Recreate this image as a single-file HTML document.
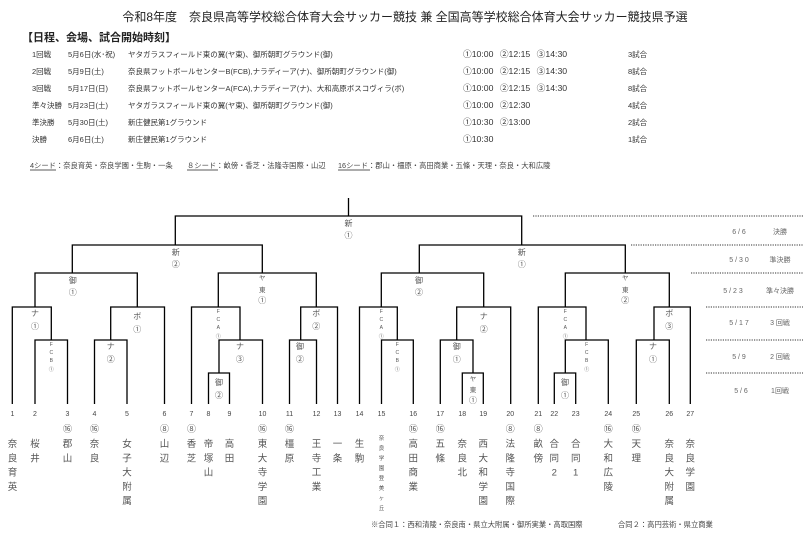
<!DOCTYPE html>
<html><head><meta charset="utf-8">
<style>
html,body{margin:0;padding:0;background:#fff;}
svg{display:block;}
text{font-family:"Liberation Sans","Noto Sans CJK JP",sans-serif;}
</style></head>
<body>
<svg width="812" height="536" viewBox="0 0 812 536" xmlns="http://www.w3.org/2000/svg">
<g fill="#222">
<text x="405" y="21" font-size="12" text-anchor="middle">令和8年度　奈良県高等学校総合体育大会サッカー競技 兼 全国高等学校総合体育大会サッカー競技県予選</text>
<text x="22" y="41" font-size="11" font-weight="bold">【日程、会場、試合開始時刻】</text>
</g>
<g fill="#333" font-size="7.5">
<text x="32" y="57">1回戦</text><text x="68" y="57">5月6日(水･祝)</text><text x="128" y="57">ヤタガラスフィールド東の翼(ヤ東)、御所朝町グラウンド(御)</text>
<text x="32" y="74">2回戦</text><text x="68" y="74">5月9日(土)</text><text x="128" y="74">奈良県フットボールセンターB(FCB),ナラディーア(ナ)、御所朝町グラウンド(御)</text>
<text x="32" y="91">3回戦</text><text x="68" y="91">5月17日(日)</text><text x="128" y="91">奈良県フットボールセンターA(FCA),ナラディーア(ナ)、大和高原ボスコヴィラ(ボ)</text>
<text x="32" y="108">準々決勝</text><text x="68" y="108">5月23日(土)</text><text x="128" y="108">ヤタガラスフィールド東の翼(ヤ東)、御所朝町グラウンド(御)</text>
<text x="32" y="125">準決勝</text><text x="68" y="125">5月30日(土)</text><text x="128" y="125">新庄健民第1グラウンド</text>
<text x="32" y="142">決勝</text><text x="68" y="142">6月6日(土)</text><text x="128" y="142">新庄健民第1グラウンド</text>
<text x="628" y="57">3試合</text><text x="628" y="74">8試合</text><text x="628" y="91">8試合</text><text x="628" y="108">4試合</text><text x="628" y="125">2試合</text><text x="628" y="142">1試合</text>
</g>
<g fill="#333" font-size="8.7" word-spacing="4">
<text x="463" y="57">①10:00 ②12:15 ③14:30</text>
<text x="463" y="74">①10:00 ②12:15 ③14:30</text>
<text x="463" y="91">①10:00 ②12:15 ③14:30</text>
<text x="463" y="108">①10:00 ②12:30</text>
<text x="463" y="125">①10:30 ②13:00</text>
<text x="463" y="142">①10:30</text>
</g>
<g fill="#444" font-size="7.3">
<text x="30" y="168">4シード：奈良育英・奈良学園・生駒・一条</text>
<text x="187" y="168">８シード：畝傍・香芝・法隆寺国際・山辺</text>
<text x="338" y="168">16シード：郡山・橿原・高田商業・五條・天理・奈良・大和広陵</text>
</g>
<g stroke="#222" stroke-width="0.8">
<line x1="30" y1="170" x2="56" y2="170"/><line x1="187" y1="170" x2="218" y2="170"/><line x1="338" y1="170" x2="370" y2="170"/>
</g>
<g stroke="#333" stroke-width="1" stroke-dasharray="1.2,1.2">
<line x1="533" y1="216" x2="803" y2="216"/>
<line x1="631" y1="245" x2="803" y2="245"/>
<line x1="691" y1="273" x2="803" y2="273"/>
<line x1="706" y1="307" x2="803" y2="307"/>
<line x1="706" y1="340" x2="803" y2="340"/>
<line x1="706" y1="373" x2="803" y2="373"/>
</g>
<g fill="#666" font-size="7" text-anchor="middle">
<text x="739" y="234">6 / 6</text><text x="780" y="234">決勝</text>
<text x="739" y="262">5 / 3 0</text><text x="780" y="262">準決勝</text>
<text x="733" y="293">5 / 2 3</text><text x="780" y="293">準々決勝</text>
<text x="739" y="325">5 / 1 7</text><text x="780" y="325">3 回戦</text>
<text x="739" y="359">5 / 9</text><text x="780" y="359">2 回戦</text>
<text x="741" y="393">5 / 6</text><text x="780" y="393">1回戦</text>
</g>
<g stroke="#000" stroke-width="1.3" fill="none">
<path d="M208.5 404V373H229.5V404"/>
<path d="M462.3 404V373H483.3V404"/>
<path d="M554.3 404V373H575.7V404"/>
<path d="M35 404V340H67.5V404"/>
<path d="M94.5 404V340H127V404"/>
<path d="M219 373V340H262.5V404"/>
<path d="M289.5 404V340H316.5V404"/>
<path d="M381.5 404V340H413.3V404"/>
<path d="M440.3 404V340H473V373"/>
<path d="M565.3 373V340H608.3V404"/>
<path d="M636.3 404V340H669.3V404"/>
<path d="M12.3 404V307H51.3V340"/>
<path d="M110.7 340V307H164.5V404"/>
<path d="M191.5 404V307H240V340"/>
<path d="M300.7 340V307H337.5V404"/>
<path d="M359.5 404V307H397.3V340"/>
<path d="M456.7 340V307H510.7V404"/>
<path d="M538.3 404V307H586V340"/>
<path d="M654 340V307H690.3V404"/>
<path d="M35 307V273H137.3V307"/>
<path d="M218.3 307V273H316.3V307"/>
<path d="M381.3 307V273H483.7V307"/>
<path d="M565.3 307V273H669.3V307"/>
<path d="M72.3 273V245H262.3V273"/>
<path d="M419.3 273V245H625.3V273"/>
<path d="M175.3 245V216H521.7V245"/>
<path d="M348.5 216V198"/>
</g>
<g fill="#555" font-size="8" text-anchor="middle">
<text x="348.5" y="226">新</text><text x="348.5" y="238">①</text>
<text x="175.7" y="255">新</text><text x="175.7" y="267">②</text>
<text x="521.7" y="255">新</text><text x="521.7" y="267">①</text>
<text x="72.7" y="283">御</text><text x="72.7" y="295">①</text>
<text x="419" y="283">御</text><text x="419" y="295">②</text>
<text x="262.3" y="280" font-size="6.5">ヤ</text><text x="262.3" y="292" font-size="6.5">東</text><text x="262.3" y="303">①</text>
<text x="625.3" y="280" font-size="6.5">ヤ</text><text x="625.3" y="292" font-size="6.5">東</text><text x="625.3" y="303">②</text>
<text x="35" y="316">ナ</text><text x="35" y="329">①</text>
<text x="137.3" y="319">ボ</text><text x="137.3" y="332">①</text>
<text x="316.3" y="316">ボ</text><text x="316.3" y="329">②</text>
<text x="483.7" y="319">ナ</text><text x="483.7" y="332">②</text>
<text x="669.3" y="316">ボ</text><text x="669.3" y="329">③</text>
<text x="110.7" y="349">ナ</text><text x="110.7" y="362">②</text>
<text x="240" y="349">ナ</text><text x="240" y="362">③</text>
<text x="300" y="349">御</text><text x="300" y="362">②</text>
<text x="456.7" y="349">御</text><text x="456.7" y="362">①</text>
<text x="653" y="349">ナ</text><text x="653" y="362">①</text>
<text x="219" y="385">御</text><text x="219" y="398">②</text>
<text x="565" y="385">御</text><text x="565" y="398">①</text>
<text x="473" y="381" font-size="6.5">ヤ</text><text x="473" y="392" font-size="6.5">東</text><text x="473" y="403">①</text>
</g>
<g fill="#555" font-size="5" text-anchor="middle">
<text x="218.3" y="313">F</text><text x="218.3" y="321">C</text><text x="218.3" y="329">A</text><text x="218.3" y="338">①</text>
<text x="381.3" y="313">F</text><text x="381.3" y="321">C</text><text x="381.3" y="329">A</text><text x="381.3" y="338">①</text>
<text x="565.3" y="313">F</text><text x="565.3" y="321">C</text><text x="565.3" y="329">A</text><text x="565.3" y="338">①</text>
<text x="51.3" y="346">F</text><text x="51.3" y="354">C</text><text x="51.3" y="362">B</text><text x="51.3" y="371">①</text>
<text x="397.3" y="346">F</text><text x="397.3" y="354">C</text><text x="397.3" y="362">B</text><text x="397.3" y="371">①</text>
<text x="586.7" y="346">F</text><text x="586.7" y="354">C</text><text x="586.7" y="362">B</text><text x="586.7" y="371">①</text>
</g>
<g fill="#444" font-size="7" text-anchor="middle">
<text x="12.5" y="416">1</text><text x="35" y="416">2</text><text x="67.5" y="416">3</text><text x="94.5" y="416">4</text><text x="127" y="416">5</text><text x="164.5" y="416">6</text><text x="191.5" y="416">7</text><text x="208.5" y="416">8</text><text x="229.5" y="416">9</text><text x="262.5" y="416">10</text><text x="289.5" y="416">11</text><text x="316.5" y="416">12</text><text x="337.5" y="416">13</text><text x="359.5" y="416">14</text><text x="381.5" y="416">15</text><text x="413.3" y="416">16</text><text x="440.3" y="416">17</text><text x="462.3" y="416">18</text><text x="483.3" y="416">19</text><text x="510.3" y="416">20</text><text x="538.3" y="416">21</text><text x="554.3" y="416">22</text><text x="575.7" y="416">23</text><text x="608.3" y="416">24</text><text x="636.3" y="416">25</text><text x="669.3" y="416">26</text><text x="690.3" y="416">27</text>
</g>
<g fill="#555" font-size="9" text-anchor="middle">
<text x="67.5" y="432">⑯</text><text x="94.5" y="432">⑯</text><text x="164.5" y="432">⑧</text><text x="191.5" y="432">⑧</text><text x="262.5" y="432">⑯</text><text x="289.5" y="432">⑯</text><text x="413.3" y="432">⑯</text><text x="440.3" y="432">⑯</text><text x="510.3" y="432">⑧</text><text x="538.3" y="432">⑧</text><text x="608.3" y="432">⑯</text><text x="636.3" y="432">⑯</text>
</g>
<g fill="#555" font-size="9.5" text-anchor="middle">
<text x="12.5" y="447"><tspan x="12.5">奈</tspan><tspan x="12.5" dy="14.3">良</tspan><tspan x="12.5" dy="14.3">育</tspan><tspan x="12.5" dy="14.3">英</tspan></text>
<text y="447"><tspan x="35">桜</tspan><tspan x="35" dy="14.3">井</tspan></text>
<text y="447"><tspan x="67.5">郡</tspan><tspan x="67.5" dy="14.3">山</tspan></text>
<text y="447"><tspan x="94.5">奈</tspan><tspan x="94.5" dy="14.3">良</tspan></text>
<text y="447"><tspan x="127">女</tspan><tspan x="127" dy="14.3">子</tspan><tspan x="127" dy="14.3">大</tspan><tspan x="127" dy="14.3">附</tspan><tspan x="127" dy="14.3">属</tspan></text>
<text y="447"><tspan x="164.5">山</tspan><tspan x="164.5" dy="14.3">辺</tspan></text>
<text y="447"><tspan x="191.5">香</tspan><tspan x="191.5" dy="14.3">芝</tspan></text>
<text y="447"><tspan x="208.5">帝</tspan><tspan x="208.5" dy="14.3">塚</tspan><tspan x="208.5" dy="14.3">山</tspan></text>
<text y="447"><tspan x="229.5">高</tspan><tspan x="229.5" dy="14.3">田</tspan></text>
<text y="447"><tspan x="262.5">東</tspan><tspan x="262.5" dy="14.3">大</tspan><tspan x="262.5" dy="14.3">寺</tspan><tspan x="262.5" dy="14.3">学</tspan><tspan x="262.5" dy="14.3">園</tspan></text>
<text y="447"><tspan x="289.5">橿</tspan><tspan x="289.5" dy="14.3">原</tspan></text>
<text y="447"><tspan x="316.5">王</tspan><tspan x="316.5" dy="14.3">寺</tspan><tspan x="316.5" dy="14.3">工</tspan><tspan x="316.5" dy="14.3">業</tspan></text>
<text y="447"><tspan x="337.5">一</tspan><tspan x="337.5" dy="14.3">条</tspan></text>
<text y="447"><tspan x="359.5">生</tspan><tspan x="359.5" dy="14.3">駒</tspan></text>
<text y="447"><tspan x="413.3">高</tspan><tspan x="413.3" dy="14.3">田</tspan><tspan x="413.3" dy="14.3">商</tspan><tspan x="413.3" dy="14.3">業</tspan></text>
<text y="447"><tspan x="440.3">五</tspan><tspan x="440.3" dy="14.3">條</tspan></text>
<text y="447"><tspan x="462.3">奈</tspan><tspan x="462.3" dy="14.3">良</tspan><tspan x="462.3" dy="14.3">北</tspan></text>
<text y="447"><tspan x="483.3">西</tspan><tspan x="483.3" dy="14.3">大</tspan><tspan x="483.3" dy="14.3">和</tspan><tspan x="483.3" dy="14.3">学</tspan><tspan x="483.3" dy="14.3">園</tspan></text>
<text y="447"><tspan x="510.3">法</tspan><tspan x="510.3" dy="14.3">隆</tspan><tspan x="510.3" dy="14.3">寺</tspan><tspan x="510.3" dy="14.3">国</tspan><tspan x="510.3" dy="14.3">際</tspan></text>
<text y="447"><tspan x="538.3">畝</tspan><tspan x="538.3" dy="14.3">傍</tspan></text>
<text y="447"><tspan x="554.3">合</tspan><tspan x="554.3" dy="14.3">同</tspan><tspan x="554.3" dy="14.3">2</tspan></text>
<text y="447"><tspan x="575.7">合</tspan><tspan x="575.7" dy="14.3">同</tspan><tspan x="575.7" dy="14.3">1</tspan></text>
<text y="447"><tspan x="608.3">大</tspan><tspan x="608.3" dy="14.3">和</tspan><tspan x="608.3" dy="14.3">広</tspan><tspan x="608.3" dy="14.3">陵</tspan></text>
<text y="447"><tspan x="636.3">天</tspan><tspan x="636.3" dy="14.3">理</tspan></text>
<text y="447"><tspan x="669.3">奈</tspan><tspan x="669.3" dy="14.3">良</tspan><tspan x="669.3" dy="14.3">大</tspan><tspan x="669.3" dy="14.3">附</tspan><tspan x="669.3" dy="14.3">属</tspan></text>
<text y="447"><tspan x="690.3">奈</tspan><tspan x="690.3" dy="14.3">良</tspan><tspan x="690.3" dy="14.3">学</tspan><tspan x="690.3" dy="14.3">園</tspan></text>
</g>
<g fill="#555" font-size="5.5" text-anchor="middle">
<text y="440"><tspan x="381.5">奈</tspan><tspan x="381.5" dy="10">良</tspan><tspan x="381.5" dy="10">学</tspan><tspan x="381.5" dy="10">園</tspan><tspan x="381.5" dy="10">登</tspan><tspan x="381.5" dy="10">美</tspan><tspan x="381.5" dy="10">ヶ</tspan><tspan x="381.5" dy="10">丘</tspan></text>
</g>
<g fill="#444" font-size="7.3">
<text x="371" y="527">※合同１：西和清陵・奈良南・県立大附属・御所実業・高取国際</text>
<text x="618" y="527">合同２：高円芸術・県立商業</text>
</g>
</svg>
</body></html>
